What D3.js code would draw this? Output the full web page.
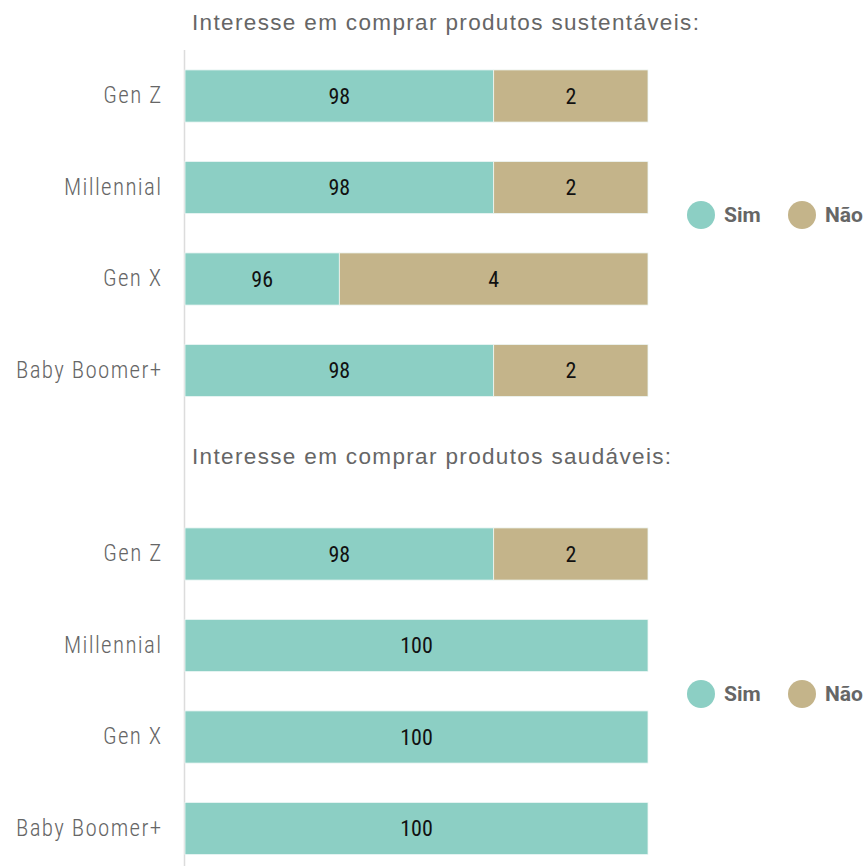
<!DOCTYPE html>
<html>
<head>
<meta charset="utf-8">
<script src="https://cdn.jsdelivr.net/npm/d3@7"></script>
<style>
  body { margin: 0; background: #fff; }
  svg { display: block; }
</style>
</head>
<body>
<svg id="chart" width="867" height="866"></svg>
<script>
// Generations shown in each panel
const categories = ["Gen Z", "Millennial", "Gen X", "Baby Boomer+"];
const seriesNames = ["Sim", "Não"];

// Panel 1: interest in sustainable products (%)
const sustSim = [98, 98, 96, 98];
const sustNao = [2, 2, 4, 2];

// Panel 2: interest in healthy products (%)
const saudSim = [98, 100, 100, 100];
const saudNao = [2, 0, 0, 0];

const panelTitles = [
  "Interesse em comprar produtos sustentáveis:",
  "Interesse em comprar produtos saudáveis:"
];

const colors = { "Sim": "#8ccfc4", "Não": "#c4b48a" };
const condensed = "'Roboto Condensed', 'Liberation Sans Narrow', 'DejaVu Sans Condensed', sans-serif";

const svg = d3.select("#chart");

// Truncated value axis: 94–100 fills the bar track
const x = d3.scaleLinear().domain([94, 100]).range([185, 648]).clamp(true);

// Vertical baseline
svg.append("line")
  .attr("x1", 184.5).attr("x2", 184.5)
  .attr("y1", 50).attr("y2", 866)
  .attr("stroke", "#dcdcdc").attr("stroke-width", 1.5);

const panels = [
  { title: panelTitles[0], sim: sustSim, nao: sustNao, top: 50.25, titleY: 30, legendY: 215 },
  { title: panelTitles[1], sim: saudSim, nao: saudNao, top: 508.25, titleY: 464, legendY: 694 }
];

panels.forEach(p => {
  const y = d3.scaleBand()
    .domain(categories)
    .range([p.top, p.top + 366])
    .paddingInner(0.43)
    .paddingOuter(0.215);

  const g = svg.append("g");

  g.append("text")
    .attr("x", 192).attr("y", p.titleY)
    .attr("font-family", "'Liberation Sans', Arial, sans-serif")
    .attr("font-size", 22.5)
    .attr("letter-spacing", 1.35)
    .attr("fill", "#666")
    .text(p.title);

  // Category axis labels
  const axis = d3.axisLeft(y).tickSize(0).tickPadding(0);
  const ax = g.append("g").attr("transform", "translate(162.5,0)").call(axis);
  ax.select(".domain").remove();
  ax.selectAll("text")
    .attr("font-family", condensed)
    .attr("font-size", 23)
    .attr("font-weight", 300)
    .attr("letter-spacing", 1.35)
    .attr("fill", "#666");

  const rows = categories.map((c, i) => ({ cat: c, sim: p.sim[i], nao: p.nao[i] }));
  const segs = [];
  rows.forEach(r => {
    segs.push({ cat: r.cat, key: "Sim", v: r.sim, x0: x(0), x1: x(r.sim) });
    if (r.nao > 0) segs.push({ cat: r.cat, key: "Não", v: r.nao, x0: x(r.sim), x1: x(r.sim + r.nao) });
  });

  g.selectAll("rect.seg").data(segs).join("rect")
    .attr("class", "seg")
    .attr("x", d => d.x0)
    .attr("y", d => y(d.cat))
    .attr("width", d => d.x1 - d.x0)
    .attr("height", y.bandwidth())
    .attr("fill", d => colors[d.key])
    .attr("stroke", "#eef7f5")
    .attr("stroke-width", 0.8);

  g.selectAll("text.val").data(segs).join("text")
    .attr("class", "val")
    .attr("x", d => (d.x0 + d.x1) / 2)
    .attr("y", d => y(d.cat) + y.bandwidth() / 2)
    .attr("dy", "0.35em")
    .attr("text-anchor", "middle")
    .attr("font-family", condensed)
    .attr("font-size", 22)
    .attr("fill", "#111")
    .text(d => d.v);

  // Legend
  const legX = [701, 802];
  const lg = g.selectAll("g.leg").data(seriesNames).join("g")
    .attr("class", "leg")
    .attr("transform", (d, i) => `translate(${legX[i]},${p.legendY})`);
  lg.append("circle").attr("r", 14).attr("fill", d => colors[d]);
  lg.append("text")
    .attr("x", 23).attr("dy", "0.35em")
    .attr("font-family", "Roboto, sans-serif")
    .attr("font-weight", "bold")
    .attr("font-size", 21)
    .attr("fill", "#666")
    .text(d => d);
});
</script>
</body>
</html>
